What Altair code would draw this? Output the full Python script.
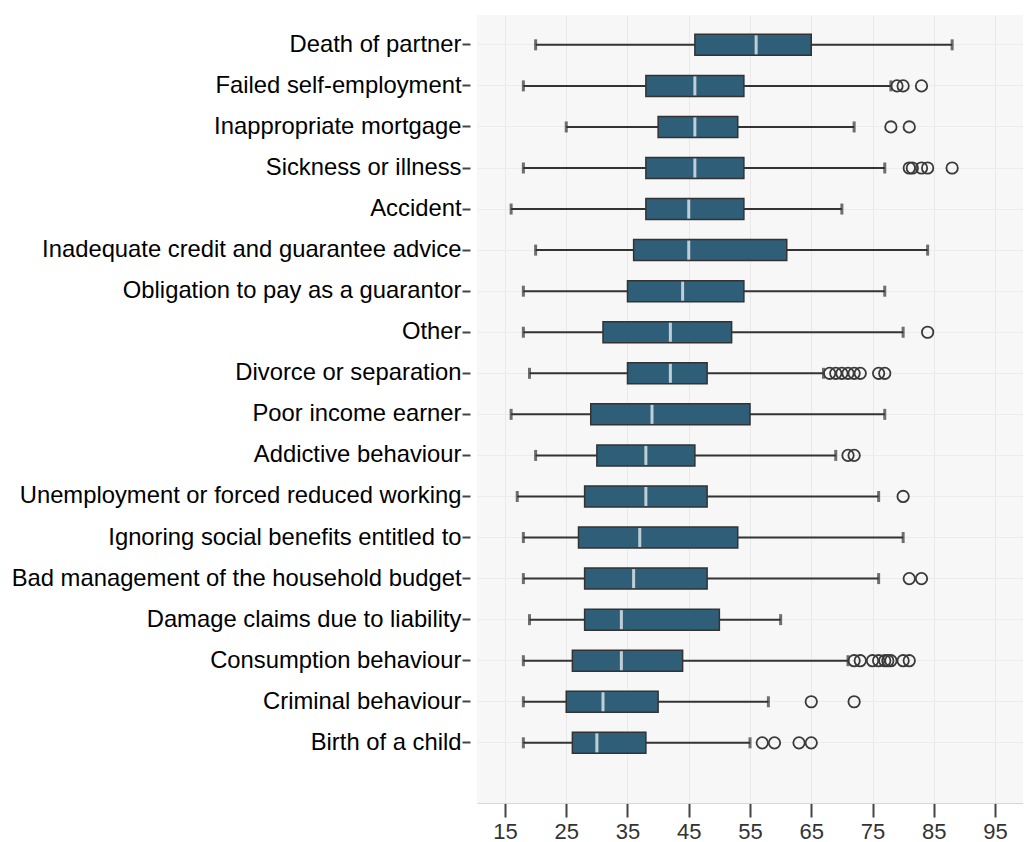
import altair as alt
import pandas as pd

categories = [
    "Death of partner",
    "Failed self-employment",
    "Inappropriate mortgage",
    "Sickness or illness",
    "Accident",
    "Inadequate credit and guarantee advice",
    "Obligation to pay as a guarantor",
    "Other",
    "Divorce or separation",
    "Poor income earner",
    "Addictive behaviour",
    "Unemployment or forced reduced working",
    "Ignoring social benefits entitled to",
    "Bad management of the household budget",
    "Damage claims due to liability",
    "Consumption behaviour",
    "Criminal behaviour",
    "Birth of a child",
]
whisker_low = [20, 18, 25, 18, 16, 20, 18, 18, 19, 16, 20, 17, 18, 18, 19, 18, 18, 18]
q1 = [46, 38, 40, 38, 38, 36, 35, 31, 35, 29, 30, 28, 27, 28, 28, 26, 25, 26]
median = [56, 46, 46, 46, 45, 45, 44, 42, 42, 39, 38, 38, 37, 36, 34, 34, 31, 30]
q3 = [65, 54, 53, 54, 54, 61, 54, 52, 48, 55, 46, 48, 53, 48, 50, 44, 40, 38]
whisker_high = [88, 78, 72, 77, 70, 84, 77, 80, 67, 77, 69, 76, 80, 76, 60, 71, 58, 55]
outliers = [
    [],
    [79, 80, 83],
    [78, 81],
    [81, 81.5, 83, 84, 88],
    [],
    [],
    [],
    [84],
    [68, 69, 70, 71, 72, 73, 76, 77],
    [],
    [71, 72],
    [80],
    [],
    [81, 83],
    [],
    [72, 73, 75, 76, 77, 77.5, 78, 80, 81],
    [65, 72],
    [57, 59, 63, 65],
]
x_ticks = [15, 25, 35, 45, 55, 65, 75, 85, 95]

box_df = pd.DataFrame({
    "category": categories,
    "low": whisker_low,
    "q1": q1,
    "median": median,
    "q3": q3,
    "high": whisker_high,
})
out_df = pd.DataFrame(
    [{"category": c, "value": v} for c, vals in zip(categories, outliers) for v in vals]
)

FONT = "Liberation Sans"
xscale = alt.Scale(domain=[10.43, 99.57], nice=False, zero=False)
yscale = alt.Scale(domain=categories, paddingInner=0, paddingOuter=0.596, align=0.19)

xaxis = alt.Axis(
    values=x_ticks, title=None, grid=True, gridColor="#e9e9e9", gridWidth=1,
    domain=True, domainColor="#d6d6d6", domainWidth=1,
    tickColor="#444444", tickWidth=2, tickSize=14,
    labelFont=FONT, labelFontSize=22, labelColor="#333333", labelPadding=4,
)
yaxis = alt.Axis(
    title=None, grid=True, gridColor="#ececec", gridWidth=1, domain=False,
    tickColor="#444444", tickWidth=2, tickSize=8, offset=7,
    labelFont=FONT, labelFontSize=23.8, labelColor="#000000", labelPadding=1,
    labelLimit=700,
)

ycat = alt.Y("category:N", sort=categories, scale=yscale, axis=yaxis, title=None)
base = alt.Chart(box_df).encode(y=ycat)

whisker = base.mark_rule(color="#333333", strokeWidth=2).encode(
    x=alt.X("low:Q", scale=xscale, axis=xaxis), x2="high:Q"
)
cap_low = base.mark_tick(color="#333333", size=11, thickness=3).encode(x="low:Q")
cap_high = base.mark_tick(color="#333333", size=11, thickness=3).encode(x="high:Q")
box = base.mark_bar(size=21, color="#2e5e78", stroke="#333333", strokeWidth=1.5).encode(
    x="q1:Q", x2="q3:Q"
)
med = base.mark_tick(color="#ffffff", size=19, thickness=3).encode(x="median:Q")
pts = alt.Chart(out_df).mark_point(
    shape="circle", filled=False, color="#3a3a3a", size=130, strokeWidth=1.8, opacity=1
).encode(
    x="value:Q",
    y=alt.Y("category:N", sort=categories),
)

chart = alt.layer(whisker, cap_low, cap_high, box, med, pts).properties(
    width=546,
    height=788,
    autosize=alt.AutoSizeParams(type="none"),
    padding={"left": 469, "top": 7, "right": 0, "bottom": 44},
    background="#ffffff",
).configure_view(fill="#f7f7f7", strokeWidth=0)

chart.save("out.html", embed_options={"renderer": "svg", "actions": False})
